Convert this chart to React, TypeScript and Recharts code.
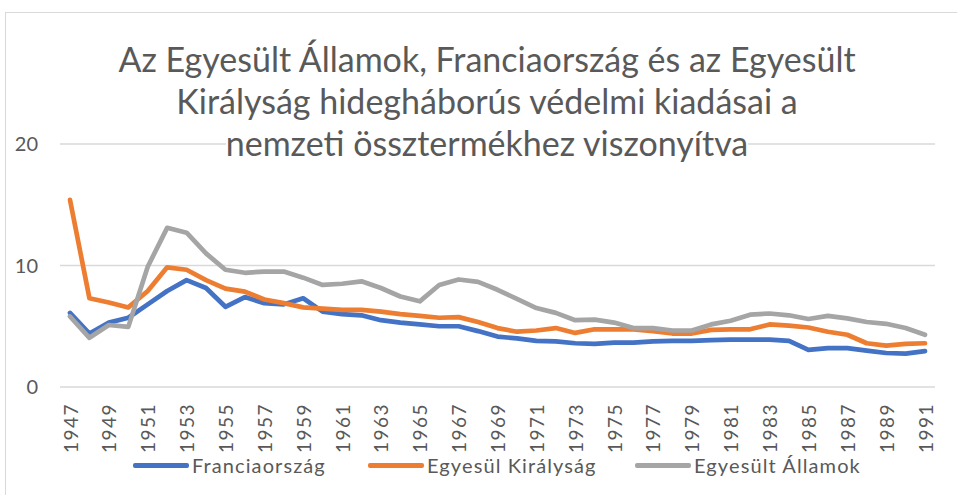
import React from "react";
import { LineChart, Line, XAxis, YAxis, CartesianGrid } from "recharts";

const years = [
  "1947", "1948", "1949", "1950", "1951", "1952", "1953", "1954", "1955", "1956",
  "1957", "1958", "1959", "1960", "1961", "1962", "1963", "1964", "1965", "1966",
  "1967", "1968", "1969", "1970", "1971", "1972", "1973", "1974", "1975", "1976",
  "1977", "1978", "1979", "1980", "1981", "1982", "1983", "1984", "1985", "1986",
  "1987", "1988", "1989", "1990", "1991",
];

const france = [
  6.1, 4.4, 5.3, 5.7, 6.8, 7.9, 8.8, 8.15, 6.6, 7.4,
  6.9, 6.8, 7.3, 6.2, 6.0, 5.9, 5.5, 5.3, 5.15, 5.0,
  5.0, 4.6, 4.15, 4.0, 3.8, 3.75, 3.6, 3.55, 3.65, 3.65,
  3.75, 3.8, 3.8, 3.85, 3.9, 3.9, 3.9, 3.8, 3.05, 3.2,
  3.2, 3.0, 2.8, 2.75, 2.95,
];

const uk = [
  15.4, 7.3, 6.95, 6.55, 7.9, 9.85, 9.65, 8.8, 8.1, 7.85,
  7.2, 6.9, 6.55, 6.45, 6.35, 6.35, 6.2, 6.0, 5.85, 5.7,
  5.75, 5.35, 4.85, 4.55, 4.65, 4.85, 4.45, 4.75, 4.75, 4.75,
  4.6, 4.4, 4.4, 4.7, 4.75, 4.75, 5.15, 5.05, 4.9, 4.55,
  4.3, 3.6, 3.4, 3.55, 3.6,
];

const us = [
  5.8, 4.05, 5.1, 4.95, 9.9, 13.1, 12.7, 11.0, 9.65, 9.4,
  9.5, 9.5, 9.0, 8.4, 8.5, 8.7, 8.15, 7.45, 7.05, 8.4,
  8.85, 8.65, 8.0, 7.25, 6.5, 6.1, 5.5, 5.55, 5.3, 4.85,
  4.85, 4.65, 4.65, 5.15, 5.45, 5.95, 6.05, 5.9, 5.6, 5.85,
  5.65, 5.35, 5.2, 4.85, 4.3,
];

const yTicks = [0, 10, 20];

const titleLines = [
  "Az Egyesült Államok, Franciaország és az Egyesült",
  "Királyság hidegháborús védelmi kiadásai a",
  "nemzeti össztermékhez viszonyítva",
];

const series = [
  { key: "fr", name: "Franciaország", color: "#4472C4", left: 133 },
  { key: "uk", name: "Egyesül Királyság", color: "#ED7D31", left: 368 },
  { key: "us", name: "Egyesült Államok", color: "#A5A5A5", left: 635 },
];

const data = years.map((year, i) => ({ year, fr: france[i], uk: uk[i], us: us[i] }));

const FONT = "Lato, 'Open Sans', sans-serif";
const TEXT = "#595959";

const YearTick = (props: any) => {
  const { x, y, payload } = props;
  const ty = y + 14;
  return (
    <text
      x={x}
      y={ty}
      transform={`rotate(-90, ${x}, ${ty})`}
      textAnchor="end"
      dominantBaseline="central"
      fill={TEXT}
      fontSize={19}
      fontFamily={FONT}
      letterSpacing={1.5}
    >
      {payload.value}
    </text>
  );
};

export default function App() {
  return (
    <div style={{ position: "absolute", left: 0, top: 0, width: 957, height: 495, background: "#fff", overflow: "hidden" }}>
      <div style={{ position: "absolute", left: 5, top: 12, width: 960, height: 500, border: "1px solid #D9D9D9", boxSizing: "border-box" }} />
      <LineChart width={957} height={495} data={data} margin={{ top: 144, right: 22, left: 0, bottom: 48 }}>
        <CartesianGrid vertical={false} stroke="#D9D9D9" strokeWidth={1.3} />
        <XAxis
          dataKey="year"
          interval={1}
          tickLine={false}
          axisLine={false}
          tickSize={0}
          height={60}
          padding={{ left: 10, right: 10 }}
          tick={<YearTick />}
        />
        <YAxis
          domain={[0, 20]}
          ticks={yTicks}
          width={60}
          axisLine={false}
          tickLine={false}
          tickSize={0}
          tickMargin={22}
          tick={{ fill: TEXT, fontSize: 20, fontFamily: FONT }}
        />
        {series.map((s) => (
          <Line
            key={s.key}
            dataKey={s.key}
            name={s.name}
            type="linear"
            stroke={s.color}
            strokeWidth={4.7}
            strokeLinejoin="round"
            strokeLinecap="round"
            dot={false}
            activeDot={false}
            isAnimationActive={false}
          />
        ))}
      </LineChart>
      <div style={{ position: "absolute", left: 0, top: 38, width: 974, textAlign: "center", fontFamily: FONT, fontSize: 34, color: TEXT }}>
        {titleLines.map((line) => (
          <div key={line} style={{ lineHeight: "42px" }}>
            <span style={{ background: "#fff" }}>{line}</span>
          </div>
        ))}
      </div>
      {series.map((s) => (
        <div
          key={s.key}
          style={{ position: "absolute", left: s.left, top: 451, height: 28, display: "flex", alignItems: "center", fontFamily: FONT, fontSize: 20, letterSpacing: 1.1, color: TEXT, whiteSpace: "nowrap" }}
        >
          <div style={{ width: 56, height: 5, background: s.color, borderRadius: 2, marginRight: 3 }} />
          <span>{s.name}</span>
        </div>
      ))}
    </div>
  );
}
